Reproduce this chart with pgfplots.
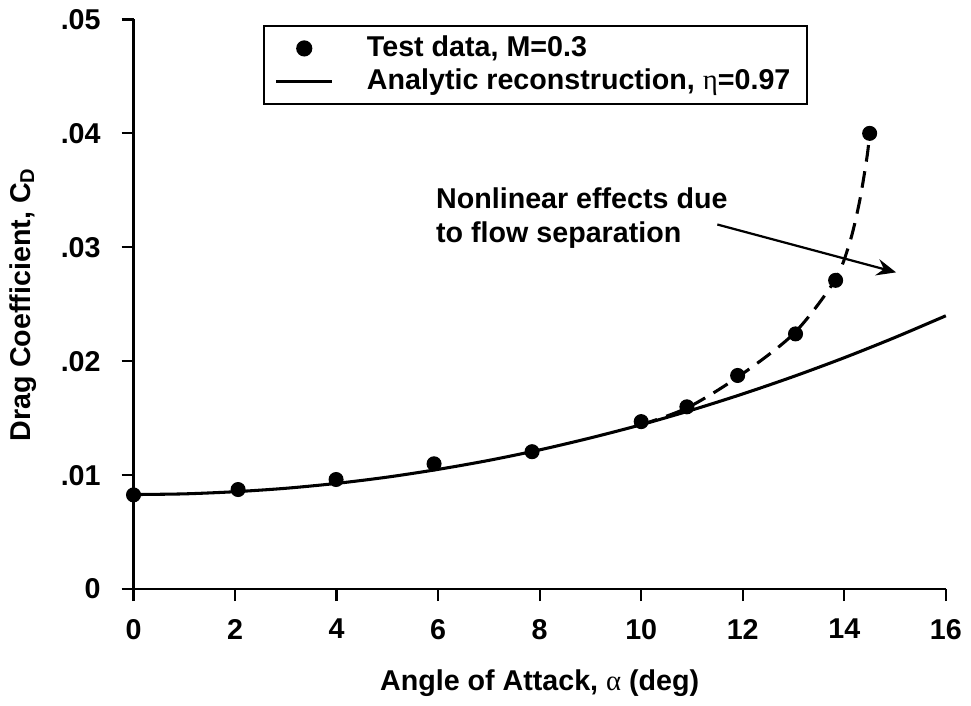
\documentclass[border=0pt]{standalone}
\usepackage{pgfplots}
\pgfplotsset{compat=1.18}
\usepackage{fontspec}
\setmainfont{Liberation Sans}
\newfontfamily\grk{Liberation Serif}
\usetikzlibrary{arrows.meta}
\begin{document}
\begin{tikzpicture}
\begin{axis}[
  scale only axis,
  width=292pt, height=204.8pt,
  xmin=0, xmax=16, ymin=0, ymax=0.05,
  axis x line*=bottom, axis y line*=left,
  axis line style={line width=0.8pt},
  tick align=outside,
  major tick length=4.3pt,
  tick style={line width=0.8pt, black},
  xtick={0,2,4,6,8,10,12,14,16},
  ytick={0,0.01,0.02,0.03,0.04,0.05},
  yticklabels={0,.01,.02,.03,.04,.05},
  scaled y ticks=false,
  /pgf/number format/assume math mode=true,
  ticklabel style={font=\fontsize{10.3}{12}\bfseries},
  yticklabel style={xshift=-4pt},
  xticklabel style={yshift=-3pt},
  xlabel={Angle of Attack, {\grk\mdseries α} (deg)},
  ylabel={Drag Coefficient, C\textsubscript{D}},
  label style={font=\fontsize{10.3}{12}\bfseries},
  xlabel style={yshift=-4pt},
  ylabel style={yshift=2pt},
  legend style={at={(0.159,0.99)}, anchor=north west, draw=black, line width=0.8pt,
    font=\fontsize{10.3}{12}\bfseries, inner xsep=4pt, inner ysep=1.5pt, row sep=-1pt},
  legend cell align=left,
  clip=false,
]
\addplot[only marks, mark=*, mark size=2.5pt, black,
  legend image code/.code={\draw[mark=*, mark size=2.5pt] plot coordinates {(10pt,0pt)};\path (0pt,0pt) (30pt,0pt);}] coordinates {
 (0,0.00827) (2.06,0.00874) (3.99,0.00962) (5.92,0.0110) (7.85,0.01206)
 (10.0,0.0147) (10.9,0.0160) (11.9,0.01875) (13.04,0.0224) (13.83,0.0271) (14.5,0.0400)
};
\addlegendentry{Test data, M=0.3}
\addplot[black, line width=1.1pt, smooth,
  legend image code/.code={\draw[line width=1.1pt] (0pt,0pt) -- (20pt,0pt);\path (30pt,0pt);}] coordinates {
 (0,0.00830) (1,0.00836) (2,0.00855) (3,0.00885) (4,0.00928) (5,0.00983)
 (6,0.01051) (7,0.01130) (8,0.01222) (9,0.01327) (10,0.01443) (11,0.01572)
 (12,0.01713) (13,0.01866) (14,0.02031) (15,0.02209) (16,0.02399)
};
\addlegendentry{Analytic reconstruction, {\grk\mdseries η}=0.97}
\addplot[black, line width=1.1pt, dash pattern=on 6pt off 3.5pt, smooth, forget plot] coordinates {
 (10,0.01443) (10.9,0.0159) (11.9,0.0186) (13.0,0.0224) (13.8,0.0270)
 (14.1,0.0303) (14.3,0.0340) (14.45,0.0380) (14.5,0.0400)
};
\node[anchor=north west, align=left, font=\fontsize{10.3}{12.5}\bfseries, inner sep=0pt]
  at (axis cs:5.95,0.0353) {Nonlinear effects due\\to flow separation};
\draw[line width=0.8pt, -{Stealth[length=7pt, width=6pt, inset=2.5pt]}]
  (axis cs:11.5,0.0320) -- (axis cs:15.02,0.0278);
\end{axis}
\end{tikzpicture}
\end{document}
